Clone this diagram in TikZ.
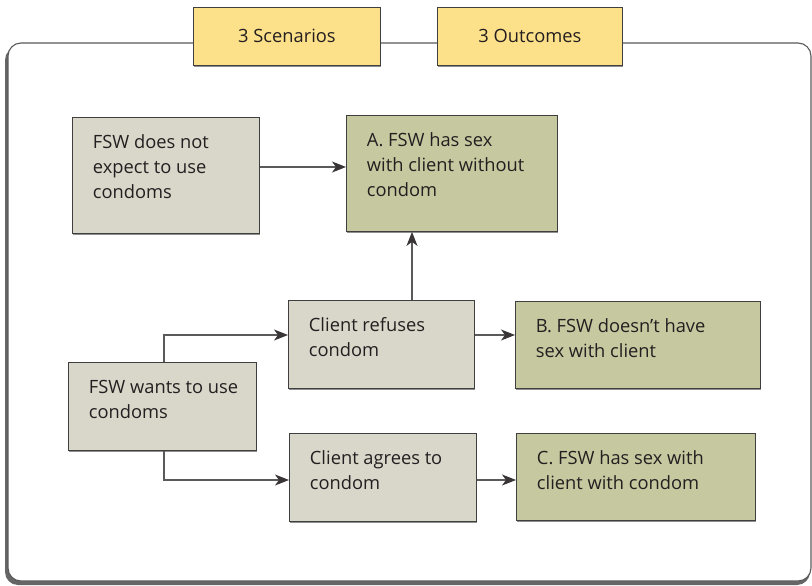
\documentclass[tikz,border=0pt]{standalone}
\usepackage{fontspec}
\setmainfont{Open Sans}
\usetikzlibrary{arrows.meta,shadows}
\definecolor{tabfill}{HTML}{FDE08A}
\definecolor{grayfill}{HTML}{D9D7CA}
\definecolor{olivefill}{HTML}{C6C8A0}
\definecolor{edge}{HTML}{3F3F3F}
\definecolor{ink}{HTML}{231F20}
\definecolor{linegray}{HTML}{5A5A5A}
\newcommand{\boxcontent}[3]{\parbox[c][#2pt][t]{#1pt}{\raggedright\leftskip=20.5pt\rule{0pt}{31.5pt}#3}}
\tikzset{
  basebox/.style={draw=edge, line width=0.9pt, inner sep=0pt, anchor=north west, text=ink,
    font=\fontsize{18.3}{24.8}\selectfont,
    drop shadow={shadow xshift=1pt, shadow yshift=-1.5pt, fill=black!55, opacity=0.8}},
  scen/.style={basebox, fill=grayfill},
  outc/.style={basebox, fill=olivefill},
  tabbox/.style={basebox, fill=tabfill, minimum width=#1, minimum height=58pt, align=center},
  arr/.style={draw=linegray, line width=1.1pt, -{Stealth[length=14pt,width=11pt,inset=4pt,color=ink!90]}},
}
\begin{document}
\begin{tikzpicture}[x=1pt,y=-1pt]
\useasboundingbox (0,0) rectangle (812,586);
% frame with shadow
\fill[black!60, rounded corners=13pt] (5,47) rectangle (810,585);
\draw[fill=white, draw=linegray, line width=1.1pt, rounded corners=13pt] (8,43) rectangle (811,581);
% tabs
\node[tabbox=187pt] (t1) at (193,7) {\raisebox{2pt}{3 Scenarios}};
\node[tabbox=185pt] (t2) at (437,7) {\raisebox{2pt}{3 Outcomes}};
% boxes
\node[scen] (b1) at (72,117) {\boxcontent{187}{116}{FSW does not\\expect to use\\condoms}};
\node[outc] (b2) at (346,115) {\boxcontent{211}{116}{A. FSW has sex\\with client without\\condom}};
\node[scen] (b3) at (288,300) {\boxcontent{186}{88}{Client refuses\\condom}};
\node[outc] (b4) at (515,301) {\boxcontent{245}{87}{B. FSW doesn’t have\\sex with client}};
\node[scen] (b5) at (68,362) {\boxcontent{188}{88}{FSW wants to use\\condoms}};
\node[scen] (b6) at (289,433) {\boxcontent{187}{88}{Client agrees to\\condom}};
\node[outc] (b7) at (516,433) {\boxcontent{239}{87}{C. FSW has sex with\\client with condom}};
% connectors
\draw[arr] ([yshift=-50pt]b1.north east) -- ([yshift=-52pt]b2.north west);
\coordinate (u) at ([xshift=124pt]b3.north west);
\draw[arr] (u) -- (u |- b2.south);
\coordinate (v) at ([yshift=-35pt]b3.north east);
\draw[arr] (v) -- (v -| b4.west);
\coordinate (w) at ([yshift=-47pt]b6.north east);
\draw[arr] (w) -- (w -| b7.west);
\draw[arr] ([xshift=96pt]b5.north west) |- (v -| b3.west);
\draw[arr] ([xshift=96pt]b5.south west) |- (w -| b6.west);
\end{tikzpicture}
\end{document}
